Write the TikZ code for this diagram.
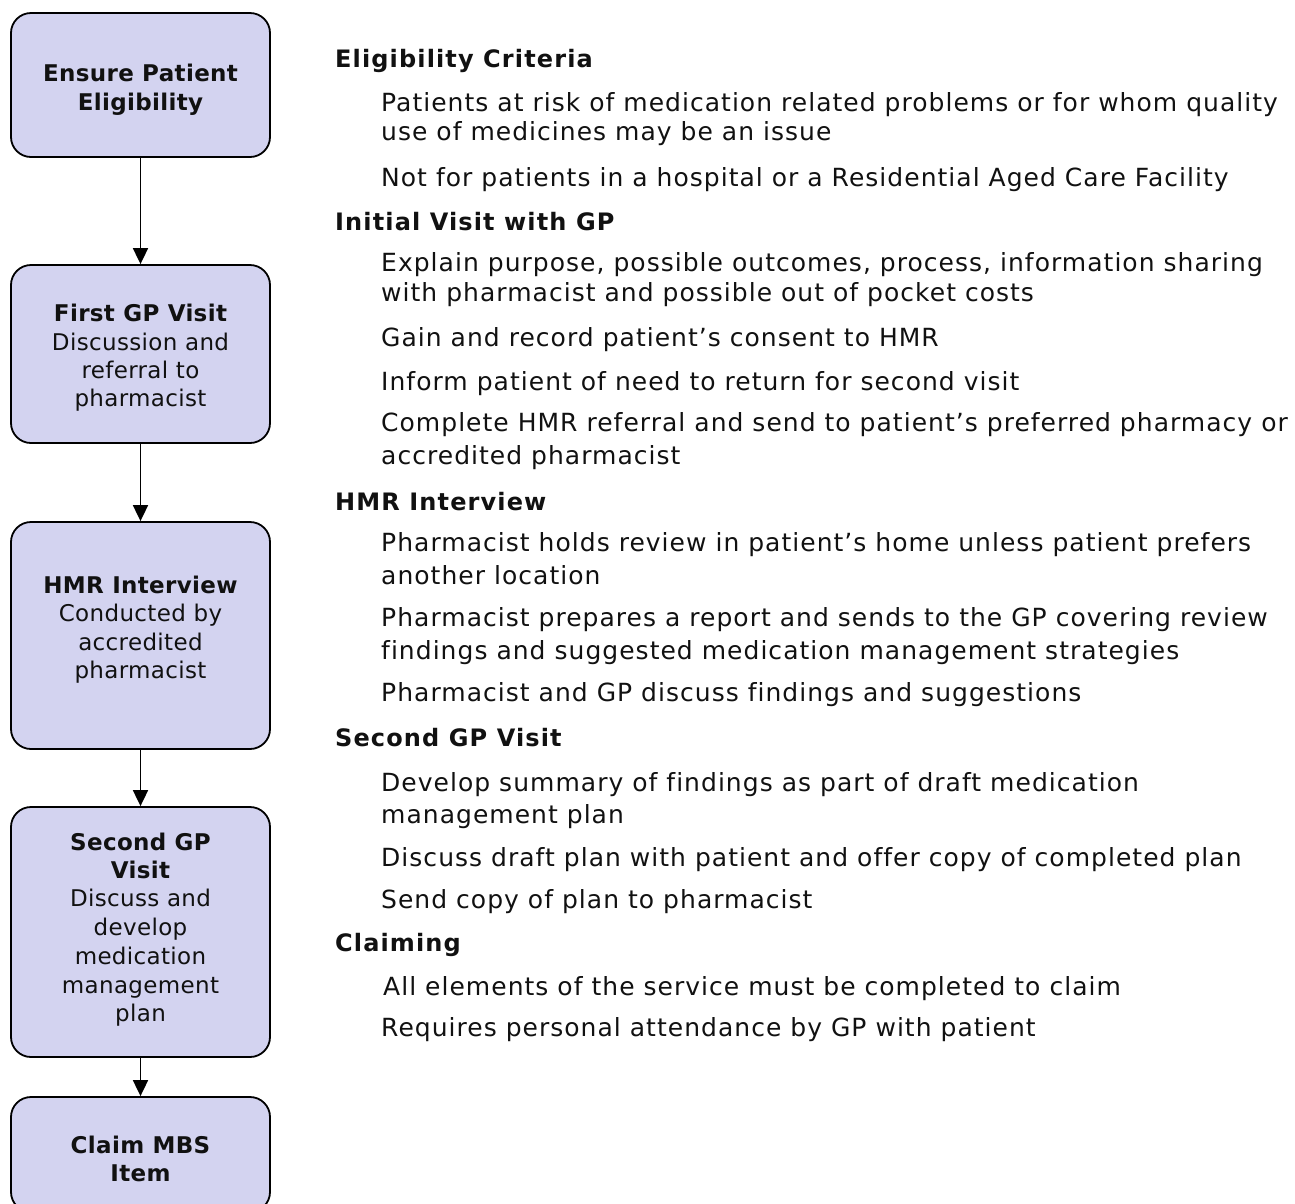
\documentclass[tikz,border=0pt]{standalone}
\usepackage{fontspec}
\setmainfont{DejaVu Sans}[Ligatures=NoCommon]
\newfontfamily\bodyfont{DejaVu Sans}[LetterSpace=4.1, Ligatures=NoCommon]
\newfontfamily\headfont{DejaVu Sans}[LetterSpace=4.7, Ligatures=NoCommon]
\newfontfamily\boxfont{DejaVu Sans}[LetterSpace=1.5, Ligatures=NoCommon]
\usetikzlibrary{arrows.meta}
\definecolor{boxfill}{RGB}{211,211,240}
\definecolor{ink}{RGB}{17,17,17}
\tikzset{
  stepbox/.style={draw=black, line width=1.8pt, fill=boxfill, rounded corners=20pt,
    minimum width=259pt, inner sep=0pt},
  boxtxt/.style={anchor=base, inner sep=0pt, text=ink, font=\boxfont\fontsize{23}{28}\selectfont},
  head/.style={anchor=base west, inner sep=0pt, text=ink, font=\headfont\fontsize{24}{28}\selectfont\bfseries},
  body/.style={anchor=base west, inner sep=0pt, text=ink, font=\bodyfont\fontsize{25}{29}\selectfont},
  flow/.style={line width=1.8pt, -{Triangle[width=15pt,length=16pt]}}
}
\begin{document}
\begin{tikzpicture}[x={(1pt,0pt)}, y={(0pt,-1pt)}]
\useasboundingbox (0,0) rectangle (1295,1203);
% boxes
\node[stepbox, minimum height=144pt] (s1) at (140.5,85) {};
\node[stepbox, minimum height=178pt] (s2) at (140.5,354) {};
\node[stepbox, minimum height=227pt] (s3) at (140.5,635.5) {};
\node[stepbox, minimum height=250pt] (s4) at (140.5,932) {};
\node[stepbox, minimum height=115pt] (s5) at (140.5,1154.5) {};
% connectors
\draw[flow] (s1) -- (s2);
\draw[flow] (s2) -- (s3);
\draw[flow] (s3) -- (s4);
\draw[flow] (s4) -- (s5);
% box texts
\node[boxtxt] (s1a) at (140.5,81.7) {\bfseries Ensure Patient};
\node[boxtxt] (s1b) at (140.5,110) {\bfseries Eligibility};
\node[boxtxt] (s2a) at (140.5,321.7) {\bfseries First GP Visit};
\node[boxtxt] (s2b) at (140.5,350) {Discussion and};
\node[boxtxt] (s2c) at (140.5,378.3) {referral to};
\node[boxtxt] (s2d) at (140.5,406.7) {pharmacist};
\node[boxtxt] (s3a) at (140.5,593.3) {\bfseries HMR Interview};
\node[boxtxt] (s3b) at (140.5,621.7) {Conducted by};
\node[boxtxt] (s3c) at (140.5,650) {accredited};
\node[boxtxt] (s3d) at (140.5,678.3) {pharmacist};
\node[boxtxt] (s4a) at (140.5,850) {\bfseries Second GP};
\node[boxtxt] (s4b) at (140.5,878.3) {\bfseries Visit};
\node[boxtxt] (s4c) at (140.5,906.7) {Discuss and};
\node[boxtxt] (s4d) at (140.5,935) {develop};
\node[boxtxt] (s4e) at (140.5,964) {medication};
\node[boxtxt] (s4f) at (140.5,993.3) {management};
\node[boxtxt] (s4g) at (140.5,1021.7) {plan};
\node[boxtxt] (s5a) at (140.5,1153) {\bfseries Claim MBS};
\node[boxtxt] (s5b) at (140.5,1181.5) {\bfseries Item};
% right column
\node[head] (h1) at (335,67) {Eligibility Criteria};
\node[body] (t1) at (381,111.7) {Patients at risk of medication related problems or for whom quality};
\node[body] (t2) at (381,140.5) {use of medicines may be an issue};
\node[body] (t3) at (381,186.7) {Not for patients in a hospital or a Residential Aged Care Facility};
\node[head] (h2) at (335,230) {Initial Visit with GP};
\node[body] (t4) at (381,271.7) {Explain purpose, possible outcomes, process, information sharing};
\node[body] (t5) at (381,301) {with pharmacist and possible out of pocket costs};
\node[body] (t6) at (381,346.7) {Gain and record patient’s consent to HMR};
\node[body] (t7) at (381,390) {Inform patient of need to return for second visit};
\node[body] (t8) at (381,431.7) {Complete HMR referral and send to patient’s preferred pharmacy or};
\node[body] (t9) at (381,464) {accredited pharmacist};
\node[head] (h3) at (335,510) {HMR Interview};
\node[body] (t10) at (381,551.7) {Pharmacist holds review in patient’s home unless patient prefers};
\node[body] (t11) at (381,584) {another location};
\node[body] (t12) at (381,626.7) {Pharmacist prepares a report and sends to the GP covering review};
\node[body] (t13) at (381,659) {findings and suggested medication management strategies};
\node[body] (t14) at (381,701.7) {Pharmacist and GP discuss findings and suggestions};
\node[head] (h4) at (335,746) {Second GP Visit};
\node[body] (t15) at (381,791.7) {Develop summary of findings as part of draft medication};
\node[body] (t16) at (381,823.3) {management plan};
\node[body] (t17) at (381,866.7) {Discuss draft plan with patient and offer copy of completed plan};
\node[body] (t18) at (381,908.3) {Send copy of plan to pharmacist};
\node[head] (h5) at (335,951.7) {Claiming};
\node[body] (t19) at (383,995) {All elements of the service must be completed to claim};
\node[body] (t20) at (381,1036.7) {Requires personal attendance by GP with patient};
\end{tikzpicture}
\end{document}
